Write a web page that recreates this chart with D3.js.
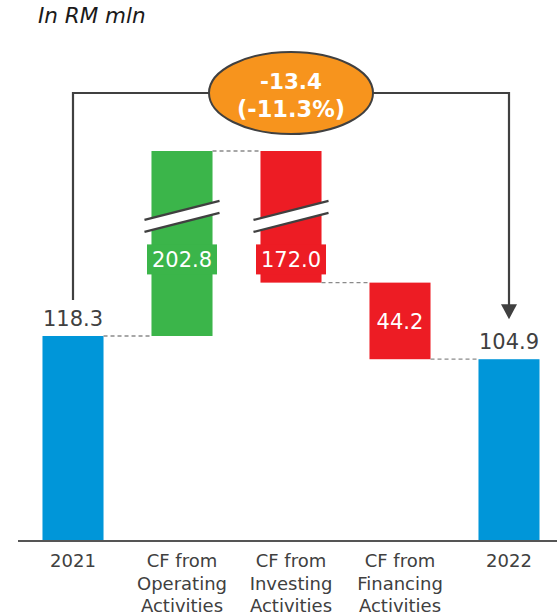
<!DOCTYPE html>
<html>
<head>
<meta charset="utf-8">
<script src="https://cdn.jsdelivr.net/npm/d3@7"></script>
<style>
  html, body { margin: 0; padding: 0; background: #fff; }
  svg { display: block; font-family: "DejaVu Sans", Verdana, sans-serif; }
</style>
</head>
<body>
<svg id="chart" width="557" height="615"></svg>
<script>
// Cash-flow bridge, RM mln
const categories = ["2021", "CF from Operating Activities", "CF from Investing Activities", "CF from Financing Activities", "2022"];
const categoryLines = [["2021"], ["CF from", "Operating", "Activities"], ["CF from", "Investing", "Activities"], ["CF from", "Financing", "Activities"], ["2022"]];
const values = [118.3, 202.8, -172.0, -44.2, 104.9];
const kinds = ["total", "increase", "decrease", "decrease", "total"];
const changeValue = -13.4;
const changePct = -11.3;
const unitLabel = "In RM mln";

const colors = { total: "#0096D9", increase: "#3BB54A", decrease: "#ED1C24" };
const ink = "#404040";

// Running totals for each step
let running = 0;
const steps = categories.map((c, i) => {
  let y0, y1;
  if (kinds[i] === "total") { y0 = 0; y1 = values[i]; running = values[i]; }
  else { y0 = running; y1 = running + values[i]; running = y1; }
  return { cat: c, lines: categoryLines[i], value: values[i], kind: kinds[i], lo: Math.min(y0, y1), hi: Math.max(y0, y1), end: y1 };
});

const peak = d3.max(steps, d => d.hi);
const breakValue = 185; // values above this are drawn on a compressed segment

const svg = d3.select("#chart");

const x = d3.scaleBand().domain(categories).range([18.5, 563.5]).paddingInner(0.44).paddingOuter(0.22);
const y = d3.scaleLinear().domain([0, breakValue, peak]).range([541, 541 - breakValue * 1.7329, 151]);

// Title
svg.append("text").attr("x", 38).attr("y", 23)
  .attr("font-size", 21.5).attr("font-style", "italic").attr("fill", "#1a1a1a")
  .text(unitLabel);

// Bars
svg.append("g").selectAll("rect").data(steps).join("rect")
  .attr("x", d => x(d.cat)).attr("width", x.bandwidth())
  .attr("y", d => y(d.hi)).attr("height", d => y(d.lo) - y(d.hi))
  .attr("fill", d => colors[d.kind]);

// Dashed connectors between consecutive bars
const conn = svg.append("g").attr("stroke", "#8a8a8a").attr("stroke-width", 1.3).attr("stroke-dasharray", "4,3");
steps.slice(0, -1).forEach((d, i) => {
  const next = steps[i + 1];
  conn.append("line")
    .attr("x1", x(d.cat) + x.bandwidth()).attr("x2", x(next.cat))
    .attr("y1", y(d.end)).attr("y2", y(d.end));
});

// Axis break marks on bars that cross the break
const breakY = y(breakValue) - 4;
steps.filter(d => d.hi > breakValue && d.lo < breakValue).forEach(d => {
  const x0 = x(d.cat) - 7, x1 = x(d.cat) + x.bandwidth() + 7;
  const rise = 19, gap = 12;
  const cy = breakY;
  const topL = cy - gap / 2 + rise / 2, topR = cy - gap / 2 - rise / 2;
  const botL = cy + gap / 2 + rise / 2, botR = cy + gap / 2 - rise / 2;
  svg.append("path")
    .attr("d", `M${x0},${topL}L${x1},${topR}L${x1},${botR}L${x0},${botL}Z`)
    .attr("fill", "#fff");
  [[topL, topR], [botL, botR]].forEach(([a, b]) => {
    svg.append("line").attr("x1", x0).attr("y1", a).attr("x2", x1).attr("y2", b)
      .attr("stroke", ink).attr("stroke-width", 2.2);
  });
});

// Value labels
const fmt = v => Math.abs(v).toFixed(1);
steps.forEach(d => {
  const cx = x(d.cat) + x.bandwidth() / 2;
  if (d.kind === "total") {
    svg.append("text").attr("x", cx).attr("y", y(d.hi) - 10)
      .attr("text-anchor", "middle").attr("font-size", 21).attr("fill", ink)
      .text(fmt(d.value));
  } else if (d.hi > breakValue) {
    const ly = breakY + 43;
    svg.append("rect").attr("x", cx - 35).attr("y", ly - 15).attr("width", 70).attr("height", 30)
      .attr("fill", colors[d.kind]);
    svg.append("text").attr("x", cx).attr("y", ly + 8)
      .attr("text-anchor", "middle").attr("font-size", 21).attr("fill", "#fff")
      .text(fmt(d.value));
  } else {
    const my = (y(d.hi) + y(d.lo)) / 2;
    svg.append("text").attr("x", cx).attr("y", my + 8)
      .attr("text-anchor", "middle").attr("font-size", 21).attr("fill", "#fff")
      .text(fmt(d.value));
  }
});

// Baseline
svg.append("line").attr("x1", 18).attr("x2", 557).attr("y1", 541).attr("y2", 541)
  .attr("stroke", "#555").attr("stroke-width", 2);

// Category labels
const xl = svg.append("g").attr("font-size", 18).attr("fill", ink).attr("text-anchor", "middle");
steps.forEach(d => {
  const t = xl.append("text").attr("x", x(d.cat) + x.bandwidth() / 2).attr("y", 567);
  d.lines.forEach((ln, j) => t.append("tspan").attr("x", x(d.cat) + x.bandwidth() / 2).attr("dy", j ? 22.5 : 0).text(ln));
});

// Change bracket from first total to last total
const first = steps[0], last = steps[steps.length - 1];
const fx = x(first.cat) + x.bandwidth() / 2, lx = x(last.cat) + x.bandwidth() / 2;
const bracketY = 93;
const arrowTip = y(last.hi) - 40;
svg.append("path")
  .attr("d", `M${fx},${y(first.hi) - 36}V${bracketY}H${lx}V${arrowTip - 12}`)
  .attr("fill", "none").attr("stroke", ink).attr("stroke-width", 2.2);
svg.append("path")
  .attr("d", `M${lx - 8},${arrowTip - 15}L${lx + 8},${arrowTip - 15}L${lx},${arrowTip}Z`)
  .attr("fill", ink);

// Change bubble
const bx = (fx + lx) / 2;
svg.append("ellipse").attr("cx", bx).attr("cy", bracketY).attr("rx", 82).attr("ry", 41)
  .attr("fill", "#F7941D").attr("stroke", ink).attr("stroke-width", 2);
svg.append("text").attr("x", bx).attr("y", 89)
  .attr("text-anchor", "middle").attr("font-size", 21.5).attr("font-weight", "bold").attr("fill", "#fff")
  .text(changeValue.toFixed(1));
svg.append("text").attr("x", bx).attr("y", 117)
  .attr("text-anchor", "middle").attr("font-size", 22.5).attr("font-weight", "bold").attr("fill", "#fff")
  .text(`(${changePct.toFixed(1)}%)`);
</script>
</body>
</html>
